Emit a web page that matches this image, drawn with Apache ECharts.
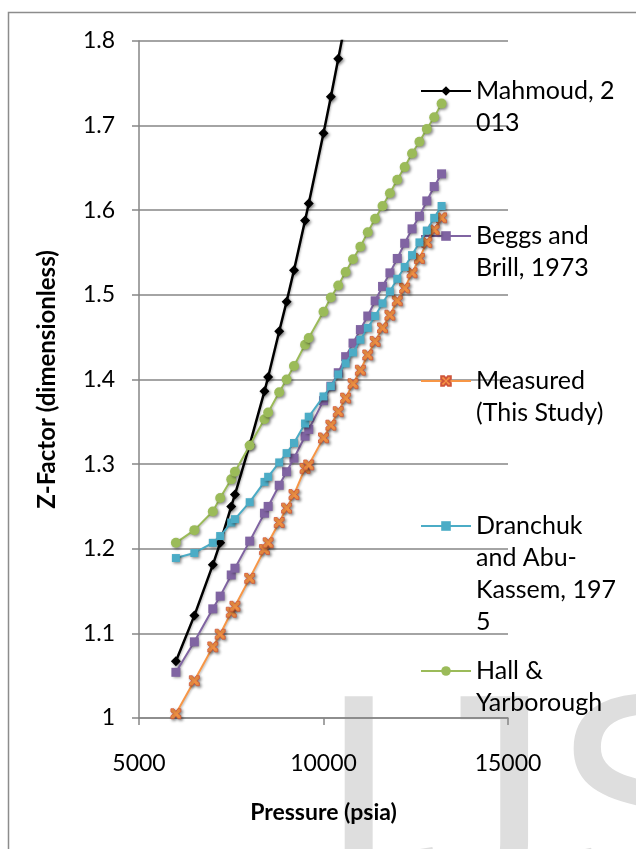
<!DOCTYPE html>
<html>
<head>
<meta charset="utf-8">
<script src="https://cdn.jsdelivr.net/npm/echarts@6/dist/echarts.min.js"></script>
<style>
html,body{margin:0;padding:0;background:#fff;}
#chart{width:636px;height:849px;}
</style>
</head>
<body>
<div id="chart"></div>
<script>
// Pressure values (psia)
const pressure = [6000,6500,7000,7200,7500,7600,8000,8400,8500,8800,9000,9200,9500,9600,10000,10200,10400,10600,10800,11000,11200,11400,11600,11800,12000,12200,12400,12600,12800,13000,13200];
// Z-factor series
const mahmoud = [1.067,1.121,1.181,1.207,1.250,1.264,1.323,1.386,1.403,1.457,1.492,1.529,1.588,1.608,1.691,1.734,1.779,1.824];
const beggsBrill = [1.054,1.090,1.129,1.144,1.169,1.177,1.209,1.242,1.250,1.275,1.291,1.307,1.333,1.341,1.375,1.392,1.408,1.427,1.443,1.459,1.475,1.493,1.510,1.526,1.543,1.561,1.578,1.593,1.611,1.628,1.643];
const measured = [1.005,1.044,1.084,1.099,1.125,1.132,1.165,1.199,1.207,1.231,1.248,1.264,1.295,1.299,1.331,1.346,1.362,1.378,1.395,1.411,1.429,1.445,1.461,1.476,1.493,1.508,1.526,1.543,1.562,1.577,1.591];
const dranchuk = [1.189,1.195,1.207,1.215,1.231,1.235,1.255,1.279,1.285,1.302,1.313,1.325,1.348,1.356,1.380,1.392,1.406,1.419,1.432,1.447,1.461,1.475,1.490,1.504,1.519,1.533,1.547,1.562,1.576,1.591,1.605];
const hallYarborough = [1.207,1.222,1.244,1.260,1.282,1.291,1.322,1.353,1.361,1.385,1.400,1.416,1.441,1.449,1.480,1.497,1.511,1.527,1.542,1.557,1.574,1.590,1.605,1.620,1.636,1.651,1.667,1.681,1.696,1.710,1.726];

const seriesNames = ['Mahmoud, 2013','Beggs and Brill, 1973','Measured (This Study)','Dranchuk and Abu-Kassem, 1975','Hall & Yarborough'];
const legendLabels = ['Mahmoud, 2\n013','Beggs and\nBrill, 1973','Measured\n(This Study)','Dranchuk\nand Abu-\nKassem, 197\n5','Hall &\nYarborough'];
const yTicks = {min:1, max:1.8, interval:0.1};
const xTicks = {min:5000, max:15000, interval:5000};

function pairs(vals){ return vals.map((v,i)=>[pressure[i], v]); }

const xPath = 'path://M0,0 L3,0 L5,2.6 L7,0 L10,0 L10,3 L7.4,5 L10,7 L10,10 L7,10 L5,7.4 L3,10 L0,10 L0,7 L2.6,5 L0,3 Z';
const shadow = {shadowBlur:3, shadowColor:'rgba(0,0,0,0.45)', shadowOffsetX:1.5, shadowOffsetY:1.5};

const styles = [
  {color:'#000000', symbol:'diamond', size:10, width:2.5, border:'#000000'},
  {color:'#8064a2', symbol:'rect', size:9, width:2, border:'#8064a2'},
  {color:'#f79646', symbol:xPath, size:10, width:2, border:'#d0553a'},
  {color:'#4bacc6', symbol:'rect', size:8, width:2, border:'#4bacc6'},
  {color:'#9bbb59', symbol:'circle', size:10, width:2, border:'#9bbb59'}
];
const dataSets = [mahmoud, beggsBrill, measured, dranchuk, hallYarborough];

const series = dataSets.map((d,i)=>({
  name: seriesNames[i],
  type: 'line',
  data: pairs(d),
  symbol: styles[i].symbol,
  symbolSize: styles[i].size,
  clip: true,
  lineStyle: {color: styles[i].color, width: styles[i].width, shadowBlur:2, shadowColor:'rgba(0,0,0,0.25)', shadowOffsetX:1, shadowOffsetY:1},
  itemStyle: Object.assign({color: styles[i].color, borderColor: styles[i].border, borderWidth: i===2?0.8:0}, shadow),
  emphasis: {disabled: true},
  z: 2 + i
}));

// legend per series, symbol aligned with first text line (blank lines prepended)
const legendSymbolY = [91, 236, 381, 526, 671];
const LH = 32;
const legends = seriesNames.map((n,i)=>{
  const lines = legendLabels[i].split('\n');
  const n0 = lines.length;
  const label = Array(n0-1).fill(' ').concat(lines).join('\n');
  const H = (2*n0-1)*LH;
  return {
    data:[n],
    orient:'vertical',
    left: 420,
    top: legendSymbolY[i] - H/2,
    padding: 0,
    itemWidth: 50,
    itemHeight: 12,
    selectedMode: false,
    formatter: ()=>label,
    textStyle: {fontFamily:'Lato', fontSize:25, lineHeight:LH, color:'#000'}
  };
});

const chart = echarts.init(document.getElementById('chart'), null, {renderer:'canvas'});
chart.setOption({
  animation: false,
  backgroundColor: '#ffffff',
  grid: {left:139, right:128, top:41, bottom:131, containLabel:false},
  xAxis: {
    type:'value', min:xTicks.min, max:xTicks.max, interval:xTicks.interval,
    name:'Pressure (psia)', nameLocation:'middle', nameGap:83,
    nameTextStyle:{fontFamily:'Lato', fontWeight:'bold', fontSize:23, color:'#000'},
    axisLine:{show:true, onZero:false, lineStyle:{color:'#868686', width:1.5}},
    axisTick:{show:true, length:7, lineStyle:{color:'#868686', width:1.5}},
    axisLabel:{fontFamily:'Lato', fontSize:23, color:'#000', margin:34, formatter:(v)=>String(v)},
    splitLine:{show:false}
  },
  yAxis: {
    type:'value', min:yTicks.min, max:yTicks.max, interval:yTicks.interval,
    name:'Z-Factor (dimensionless)', nameLocation:'middle', nameGap:80, nameRotate:90,
    nameTextStyle:{fontFamily:'Lato', fontWeight:'bold', fontSize:24, color:'#000'},
    axisLine:{show:true, lineStyle:{color:'#868686', width:1.5}},
    axisTick:{show:true, length:7, lineStyle:{color:'#868686', width:1.5}},
    axisLabel:{fontFamily:'Lato', fontSize:23, color:'#000', margin:24},
    splitLine:{show:true, lineStyle:{color:'#868686', width:1.5}}
  },
  legend: legends,
  graphic: [
    {type:'text', left:317, top:670, z:-10, silent:true,
     style:{text:'IJS', font:'300px "Liberation Sans"', fill:'#dedede'}},
    {type:'rect', left:6, top:10, z:100, silent:true,
     shape:{width:700, height:900}, style:{fill:'none', stroke:'#8c8c8c', lineWidth:1.5}}
  ],
  series: series
});
</script>
</body>
</html>
